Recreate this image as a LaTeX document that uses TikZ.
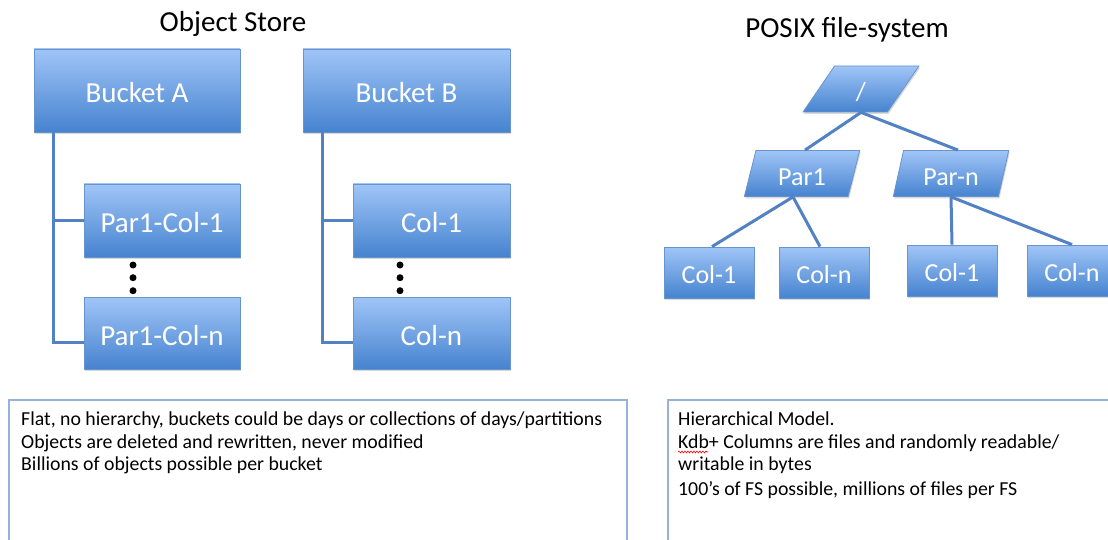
\documentclass[tikz,border=0pt]{standalone}
\usepackage{fontspec}
\setmainfont{Carlito}
\usetikzlibrary{shapes.geometric,shadows,decorations.pathmorphing}
\definecolor{boxtop}{RGB}{160,197,247}
\definecolor{boxbot}{RGB}{70,131,207}
\definecolor{boxline}{RGB}{104,148,206}
\definecolor{conn}{RGB}{82,130,195}
\definecolor{frameline}{RGB}{150,178,215}
\begin{document}
\begin{tikzpicture}[x=1pt,y=-1pt,
 bluebox/.style={rectangle, draw=boxline, line width=0.8pt, top color=boxtop, bottom color=boxbot, text=white, inner sep=0pt,
   text depth=0pt,
   drop shadow={opacity=0.3, shadow xshift=1pt, shadow yshift=-2pt}},
 bigbox/.style={bluebox, font=\fontsize{29}{32}\selectfont, text height=24pt},
 smallbox/.style={bluebox, font=\fontsize{26}{30}\selectfont, minimum width=90pt, minimum height=51pt, text height=22pt},
 para/.style={bluebox, trapezium, trapezium left angle=76, trapezium right angle=104, trapezium stretches=true,
   minimum width=116pt, minimum height=46pt, font=\fontsize{26}{30}\selectfont, text height=24pt},
 link/.style={draw=conn, line width=3pt},
 title/.style={font=\fontsize{29}{32}\selectfont, text=black, inner sep=0pt, anchor=base},
 frame/.style={draw=frameline, line width=1.5pt, fill=white, anchor=north west, inner sep=0pt},
 note/.style={font=\fontsize{19.8}{22.5}\selectfont, align=left, anchor=north west, inner sep=0pt}
]
\useasboundingbox (0,0) rectangle (1108,540);
\clip (0,0) rectangle (1108,540);
\fill[white] (0,0) rectangle (1108,540);

% titles
\node[title] (t1) at (233,32) {Object Store};
\node[title] (t2) at (847,38) {POSIX file-system};

% object store
\node[bigbox, minimum width=206pt, minimum height=83pt] (bA) at (137,90.5) {Bucket A};
\node[bigbox, minimum width=207pt, minimum height=83pt] (bB) at (406.5,90.5) {Bucket B};
\node[bigbox, minimum width=156pt, minimum height=73pt] (pc1) at (162,220.5) {Par1-Col-1};
\node[bigbox, minimum width=156pt, minimum height=72pt] (pcn) at (162,333) {Par1-Col-n};
\node[bigbox, minimum width=157pt, minimum height=73pt] (bc1) at (431.5,220.5) {Col-1};
\node[bigbox, minimum width=157pt, minimum height=72pt] (bcn) at (431.5,333) {Col-n};

\coordinate (la) at ([xshift=20pt]bA.south west);
\coordinate (lb) at ([xshift=20pt]bB.south west);
\draw[link] (la) |- ([yshift=-9pt]pcn.west);
\draw[link] (la |- pc1.west) -- (pc1.west);
\draw[link] (lb) |- ([yshift=-9pt]bcn.west);
\draw[link] (lb |- bc1.west) -- (bc1.west);

\foreach \yy in {265,277.7,290.7}{
  \fill[black] (133,\yy) circle (3.5pt);
  \fill[black] (400,\yy) circle (3.5pt);
}

% POSIX tree
\node[para] (root) at (861,89) {/};
\node[para] (p1) at (802,173.5) {Par1};
\node[para] (pn) at (951,173.5) {Par-n};
\node[smallbox] (c1) at (709,272.5) {Col-1};
\node[smallbox] (cn) at (824,272.5) {Col-n};
\node[smallbox] (c1r) at (952,270.5) {Col-1};
\node[smallbox] (cnr) at (1072,270.5) {Col-n};

\draw[link] (root.south) -- ([xshift=3pt]p1.north);
\draw[link] (root.south) -- ([xshift=7pt]pn.north);
\draw[link] ([xshift=-9pt]p1.south) -- ([xshift=3pt]c1.north);
\draw[link] ([xshift=-9pt]p1.south) -- ([xshift=-4pt]cn.north);
\draw[link] (pn.south) -- (c1r.north);
\draw[link] (pn.south) -- (cnr.north);

% text frames
\node[frame, minimum width=618pt, minimum height=170pt] (lf) at (8,399) {};
\node[note] (lt) at (21,412) {Flat, no hierarchy, buckets could be days or collections of days/partitions\\Objects are deleted and rewritten, never modified\\Billions of objects possible per bucket};
\node[frame, minimum width=470pt, minimum height=170pt] (rf) at (667,399) {};
\node[note] (rt) at (678,412) {Hierarchical Model.\\Kdb+ Columns are files and randomly readable/\\writable in bytes\\[2.5pt]100’s of FS possible, millions of files per FS};
\draw[red, line width=0.6pt, decorate, decoration={snake, amplitude=0.9pt, segment length=3pt}] (678,452) -- (708,452);
\end{tikzpicture}
\end{document}
